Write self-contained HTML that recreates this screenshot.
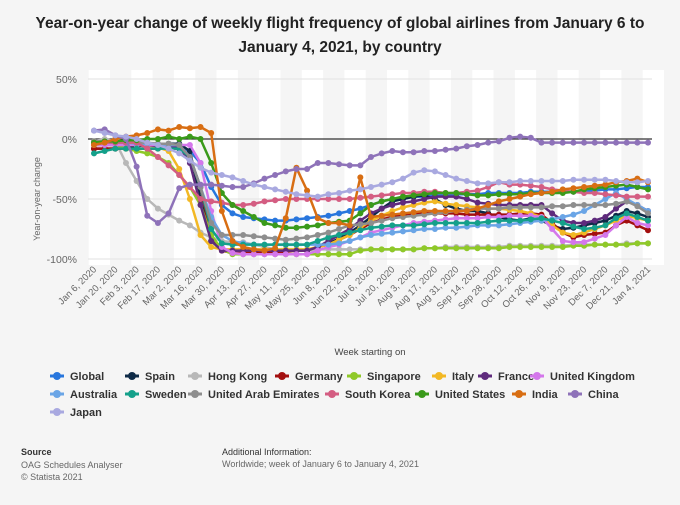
<!DOCTYPE html>
<html><head><meta charset="utf-8">
<style>
body{margin:0;background:#f5f5f5;font-family:"Liberation Sans",sans-serif;}
#wrap{position:relative;width:680px;height:505px;overflow:hidden;background:#f5f5f5;}
.t{position:absolute;color:#333;}
</style></head>
<body>
<div id="wrap">
<div class="t" style="left:20px;width:640px;top:12px;text-align:center;font-weight:bold;font-size:15.5px;line-height:24px;color:#222">Year-on-year change of weekly flight frequency of global airlines from January 6 to January 4, 2021, by country</div>
<svg id="chart" width="680" height="505" style="position:absolute;left:0;top:0"></svg>
<div class="t" style="left:21px;top:447px;font-size:9px;font-weight:bold">Source</div>
<div class="t" style="left:21px;top:459px;font-size:9px;color:#666;line-height:12px">OAG Schedules Analyser<br>© Statista 2021</div>
<div class="t" style="left:222px;top:447px;font-size:9px;">Additional Information:</div>
<div class="t" style="left:222px;top:459px;font-size:9px;color:#666">Worldwide; week of January 6 to January 4, 2021</div>
</div>
<script>
const weekLabels=["Jan 6, 2020","Jan 20, 2020","Feb 3, 2020","Feb 17, 2020","Mar 2, 2020","Mar 16, 2020","Mar 30, 2020","Apr 13, 2020","Apr 27, 2020","May 11, 2020","May 25, 2020","Jun 8, 2020","Jun 22, 2020","Jul 6, 2020","Jul 20, 2020","Aug 3, 2020","Aug 17, 2020","Aug 31, 2020","Sep 14, 2020","Sep 28, 2020","Oct 12, 2020","Oct 26, 2020","Nov 9, 2020","Nov 23, 2020","Dec 7, 2020","Dec 21, 2020","Jan 4, 2021"];
const yTicks=[50,0,-50,-100];
const seriesNames=["Global","Spain","Hong Kong","Germany","Singapore","Italy","France","United Kingdom","Australia","Sweden","United Arab Emirates","South Korea","United States","India","China","Japan"];
const seriesColors=["#2876dd","#0e2a47","#b8b8b8","#a30f0f","#8fc929","#f2b824","#5f2b7d","#d477eb","#6aa5e6","#14a08a","#8e8e8e","#d45d82","#3a9a1a","#d86e13","#8e72b9","#a9a9e0"];
const global=[-3,-3,-3,-3,-4,-5,-6,-7,-7,-10,-20,-40,-55,-62,-65,-66,-67,-68,-68,-67,-66,-65,-64,-62,-60,-58,-55,-52,-50,-50,-48,-48,-47,-47,-46,-46,-46,-45,-45,-45,-45,-44,-44,-44,-44,-44,-43,-43,-42,-42,-41,-40,-40];
const spain=[-8,-8,-8,-7,-6,-5,-5,-4,-4,-10,-50,-85,-92,-93,-93,-93,-93,-93,-93,-93,-93,-90,-87,-83,-78,-72,-65,-58,-52,-50,-48,-47,-50,-55,-58,-60,-60,-62,-65,-67,-68,-66,-68,-72,-75,-74,-72,-70,-68,-64,-60,-62,-65];
const hongKong=[-2,0,-2,-20,-35,-50,-58,-63,-68,-72,-78,-82,-85,-86,-86,-88,-90,-92,-93,-93,-93,-92,-92,-92,-92,-92,-92,-92,-92,-92,-92,-91,-91,-90,-90,-90,-90,-90,-90,-89,-89,-89,-89,-89,-89,-88,-88,-88,-88,-88,-87,-87,-87];
const germany=[-8,-8,-8,-8,-8,-8,-8,-8,-8,-15,-40,-80,-93,-95,-95,-95,-94,-94,-94,-93,-93,-90,-88,-84,-80,-75,-70,-67,-65,-63,-62,-62,-62,-62,-62,-63,-63,-63,-63,-63,-62,-62,-63,-70,-78,-82,-80,-79,-78,-72,-68,-72,-76];
const singapore=[-5,-5,-5,-8,-10,-12,-15,-20,-30,-40,-55,-80,-92,-96,-96,-96,-96,-96,-96,-96,-96,-96,-96,-96,-96,-93,-92,-92,-92,-92,-92,-91,-91,-91,-91,-91,-91,-91,-91,-90,-90,-90,-90,-90,-90,-89,-89,-88,-88,-88,-88,-87,-87];
const italy=[-5,-5,-5,-5,-5,-5,-7,-10,-25,-50,-80,-90,-92,-92,-92,-92,-92,-92,-92,-92,-92,-90,-88,-84,-80,-74,-68,-64,-60,-57,-55,-53,-52,-54,-55,-56,-57,-58,-58,-59,-60,-62,-65,-72,-78,-80,-78,-75,-72,-68,-64,-66,-68];
const france=[-5,-5,-5,-5,-5,-5,-6,-6,-6,-20,-55,-85,-93,-93,-93,-93,-93,-93,-93,-93,-93,-90,-85,-80,-75,-68,-62,-58,-55,-53,-52,-50,-48,-48,-48,-50,-53,-54,-55,-55,-55,-55,-55,-62,-68,-70,-70,-68,-65,-58,-52,-55,-60];
const uk=[-5,-5,-5,-5,-5,-5,-5,-5,-5,-5,-20,-60,-90,-95,-96,-96,-96,-96,-96,-96,-96,-93,-90,-88,-85,-82,-78,-76,-74,-72,-70,-69,-68,-67,-66,-66,-66,-65,-65,-64,-64,-64,-65,-75,-85,-86,-86,-83,-80,-72,-65,-70,-72];
const australia=[-3,-3,-3,-3,-4,-4,-4,-5,-5,-15,-40,-65,-80,-85,-87,-88,-88,-88,-88,-88,-88,-88,-88,-87,-85,-82,-80,-79,-78,-77,-76,-75,-75,-74,-74,-73,-72,-72,-72,-71,-70,-69,-68,-67,-65,-63,-60,-55,-50,-45,-50,-55,-60];
const sweden=[-12,-10,-8,-8,-8,-8,-8,-8,-8,-15,-40,-75,-87,-88,-88,-88,-88,-88,-88,-88,-88,-85,-82,-80,-78,-76,-74,-73,-72,-72,-72,-71,-70,-70,-70,-70,-70,-69,-68,-68,-68,-67,-66,-68,-70,-73,-75,-74,-72,-66,-62,-65,-68];
const uae=[-2,-2,-2,-3,-3,-3,-4,-4,-5,-15,-40,-70,-80,-80,-80,-81,-82,-83,-84,-83,-82,-80,-78,-75,-72,-71,-70,-68,-66,-65,-64,-63,-62,-61,-60,-59,-58,-58,-58,-57,-57,-57,-57,-56,-56,-55,-55,-55,-55,-54,-52,-56,-62];
const southKorea=[-3,-3,-3,-3,-3,-8,-15,-22,-30,-40,-50,-52,-53,-55,-55,-54,-52,-51,-50,-50,-50,-50,-50,-50,-50,-49,-48,-47,-46,-45,-45,-44,-44,-45,-45,-44,-43,-40,-36,-38,-38,-39,-40,-42,-43,-44,-45,-45,-46,-47,-48,-48,-48];
const us=[-3,-2,-2,-1,-1,0,0,2,0,2,0,-20,-45,-55,-60,-65,-70,-72,-74,-74,-73,-72,-70,-69,-68,-62,-55,-52,-50,-48,-47,-46,-45,-45,-45,-46,-47,-47,-46,-46,-46,-45,-45,-45,-45,-44,-42,-41,-40,-39,-38,-40,-42];
const india=[-5,-3,0,2,3,5,8,7,10,9,10,5,-60,-85,-90,-92,-93,-91,-66,-24,-43,-66,-70,-70,-72,-32,-65,-64,-63,-62,-61,-60,-60,-60,-60,-60,-58,-55,-52,-50,-48,-46,-45,-44,-42,-41,-40,-39,-38,-36,-35,-33,-36];
const china=[7,8,3,0,-23,-64,-70,-62,-41,-38,-38,-38,-39,-40,-40,-37,-33,-30,-27,-25,-25,-20,-20,-21,-22,-22,-15,-12,-10,-11,-11,-10,-10,-9,-8,-6,-5,-3,-2,1,2,1,-3,-3,-3,-3,-3,-3,-3,-3,-3,-3,-3];
const japan=[7,5,3,2,0,-3,-5,-8,-12,-18,-24,-28,-30,-32,-35,-38,-40,-42,-44,-46,-47,-48,-46,-45,-43,-42,-40,-38,-36,-33,-28,-26,-27,-30,-33,-35,-37,-37,-36,-36,-35,-35,-35,-35,-35,-34,-34,-34,-34,-35,-36,-36,-35];
const seriesData=[global,spain,hongKong,germany,singapore,italy,france,uk,australia,sweden,uae,southKorea,us,india,china,japan];

const NS="http://www.w3.org/2000/svg";
const svg=document.getElementById('chart');
const X0=94,X1=648,Y0=139,PX=1.2,N=53;
function xPos(i){return X0+i*(X1-X0)/(N-1);}
function yPos(v){return Y0-v*PX;}
function mk(tag,attrs,parent){const e=document.createElementNS(NS,tag);for(const k in attrs)e.setAttribute(k,attrs[k]);(parent||svg).appendChild(e);return e;}
// bands
for(let k=0;k<weekLabels.length;k++){
  if(k%2===0){const b=mk('rect',{x:xPos(k*2)-5.3,y:70,width:10.65*2,height:yPos(-100)+6-70,fill:'#ffffff'});
  
  }
}
yTicks.forEach(v=>{
  const l=mk('line',{x1:88,x2:652,y1:yPos(v),y2:yPos(v),stroke:v===0?'#333':'#e2e2e2','stroke-width':v===0?1.2:1});
  
  
  const t=mk('text',{x:77,y:yPos(v)+4,'text-anchor':'end','font-size':10.5,fill:'#666'});
  t.textContent=v+'%';
  
  
});
const yt=mk('text',{x:0,y:0,transform:'translate(40,199) rotate(-90)','text-anchor':'middle','font-size':9,fill:'#666'});
yt.textContent='Year-on-year change';


weekLabels.forEach((s,k)=>{
  const x=xPos(k*2)+3,y=270;
  const t=mk('text',{x:x,y:y,transform:`rotate(-45 ${x} ${y})`,'text-anchor':'end','font-size':9.5,fill:'#666'});
  t.textContent=s;
  
  
});
const xt=mk('text',{x:370,y:355,'text-anchor':'middle','font-size':9.5,fill:'#444'});
xt.textContent='Week starting on';


// series
seriesData.forEach((arr,si)=>{
  const g=mk('g',{});
  
  
  const pts=arr.map((v,i)=>xPos(i).toFixed(1)+','+yPos(v).toFixed(1)).join(' ');
  mk('polyline',{points:pts,fill:'none',stroke:seriesColors[si],'stroke-width':2.5,'stroke-linejoin':'round'},g);
  arr.forEach((v,i)=>{
    const c=mk('circle',{cx:xPos(i),cy:yPos(v),r:3,fill:seriesColors[si]},g);
    
    
  });
});
// legend
const legendPos=[[50,376],[125,376],[188,376],[275,376],[347,376],[432,376],[478,376],[530,376],[50,394],[125,394],[188,394],[325,394],[415,394],[512,394],[568,394],[50,412]];
seriesNames.forEach((n,si)=>{
  const [lx,ly]=legendPos[si];
  const g=mk('g',{});
  
  
  mk('line',{x1:lx,x2:lx+14,y1:ly,y2:ly,stroke:seriesColors[si],'stroke-width':3},g);
  mk('circle',{cx:lx+7,cy:ly,r:4,fill:seriesColors[si]},g);
  const t=mk('text',{x:lx+20,y:ly+4,'font-size':11,'font-weight':'bold',fill:'#333'},g);
  t.textContent=n;
});
</script>
</body></html>
